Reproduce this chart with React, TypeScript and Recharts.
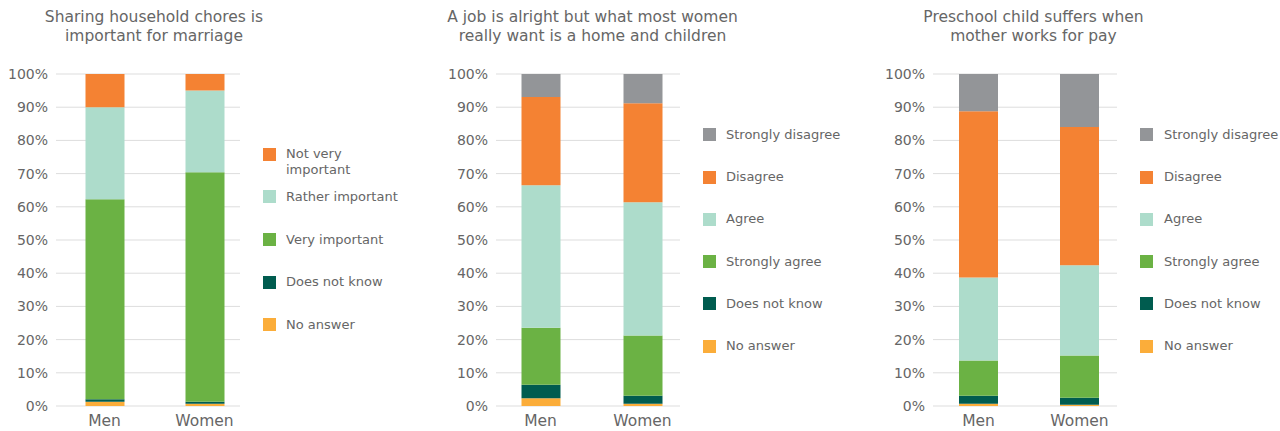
import React from 'react';
import { BarChart, Bar, XAxis, YAxis, CartesianGrid } from 'recharts';

// ---- data ----
const categories = ['Men', 'Women'];
const yTicks = [0, 10, 20, 30, 40, 50, 60, 70, 80, 90, 100];

// Chart 1: Sharing household chores is important for marriage
const choresTitle = ['Sharing household chores is', 'important for marriage'];
const choresNoAnswer = [1.3, 0.7];
const choresDoesNotKnow = [0.7, 0.6];
const choresVeryImportant = [60.3, 69.1];
const choresRatherImportant = [27.7, 24.6];
const choresNotVeryImportant = [10.0, 5.0];

// Chart 2: A job is alright but what most women really want is a home and children
const jobTitle = ['A job is alright but what most women', 'really want is a home and children'];
const jobNoAnswer = [2.3, 0.7];
const jobDoesNotKnow = [4.1, 2.4];
const jobStronglyAgree = [17.2, 18.1];
const jobAgree = [42.9, 40.2];
const jobDisagree = [26.6, 29.8];
const jobStronglyDisagree = [6.9, 8.8];

// Chart 3: Preschool child suffers when mother works for pay
const preschoolTitle = ['Preschool child suffers when', 'mother works for pay'];
const preschoolNoAnswer = [0.7, 0.4];
const preschoolDoesNotKnow = [2.4, 2.1];
const preschoolStronglyAgree = [10.6, 12.7];
const preschoolAgree = [25.0, 27.2];
const preschoolDisagree = [50.1, 41.6];
const preschoolStronglyDisagree = [11.2, 16.0];

// ---- styles ----
const C = {
  noAnswer: '#FBAD3A',
  dnk: '#005C4F',
  green: '#6BB244',
  teal: '#ADDCCB',
  orange: '#F48233',
  gray: '#939598',
};
const TEXT = '#666666';
const FONT = '"DejaVu Sans", sans-serif';

type Series = { key: string; label: string; color: string; values: number[] };

const choresSeries: Series[] = [
  { key: 'na', label: 'No answer', color: C.noAnswer, values: choresNoAnswer },
  { key: 'dnk', label: 'Does not know', color: C.dnk, values: choresDoesNotKnow },
  { key: 'vi', label: 'Very important', color: C.green, values: choresVeryImportant },
  { key: 'ri', label: 'Rather important', color: C.teal, values: choresRatherImportant },
  { key: 'nvi', label: 'Not very important', color: C.orange, values: choresNotVeryImportant },
];
const jobSeries: Series[] = [
  { key: 'na', label: 'No answer', color: C.noAnswer, values: jobNoAnswer },
  { key: 'dnk', label: 'Does not know', color: C.dnk, values: jobDoesNotKnow },
  { key: 'sa', label: 'Strongly agree', color: C.green, values: jobStronglyAgree },
  { key: 'a', label: 'Agree', color: C.teal, values: jobAgree },
  { key: 'd', label: 'Disagree', color: C.orange, values: jobDisagree },
  { key: 'sd', label: 'Strongly disagree', color: C.gray, values: jobStronglyDisagree },
];
const preschoolSeries: Series[] = [
  { key: 'na', label: 'No answer', color: C.noAnswer, values: preschoolNoAnswer },
  { key: 'dnk', label: 'Does not know', color: C.dnk, values: preschoolDoesNotKnow },
  { key: 'sa', label: 'Strongly agree', color: C.green, values: preschoolStronglyAgree },
  { key: 'a', label: 'Agree', color: C.teal, values: preschoolAgree },
  { key: 'd', label: 'Disagree', color: C.orange, values: preschoolDisagree },
  { key: 'sd', label: 'Strongly disagree', color: C.gray, values: preschoolStronglyDisagree },
];

type PanelProps = {
  left: number;
  title: string[];
  titleCenter: number;
  series: Series[];
  padLeft: number;
  padRight: number;
  swatchX: number;
  textX: number;
  legendFirst: number;
  legendStep: number;
  legendTextWidth: number;
};

function Panel(p: PanelProps) {
  const data = categories.map((c, i) => {
    const row: Record<string, string | number> = { name: c };
    p.series.forEach((s) => (row[s.key] = s.values[i]));
    return row;
  });
  const chartW = 56 + 184 + 4;
  const legendItems = [...p.series].reverse();
  return (
    <>
      <div
        style={{
          position: 'absolute',
          left: p.titleCenter - 200,
          width: 400,
          top: 8,
          textAlign: 'center',
          fontFamily: FONT,
          fontSize: 15.5,
          lineHeight: '19px',
          color: TEXT,
        }}
      >
        {p.title.map((t, i) => (
          <div key={i}>{t}</div>
        ))}
      </div>
      <div style={{ position: 'absolute', left: p.left, top: 0 }}>
        <BarChart
          width={chartW}
          height={431}
          data={data}
          margin={{ top: 74, right: 4, bottom: 0, left: 0 }}
          barSize={39}
        >
          <CartesianGrid vertical={false} stroke="#DDDDDD" strokeWidth={1} />
          <XAxis
            dataKey="name"
            axisLine={false}
            tickLine={false}
            height={25}
            tickMargin={3}
            padding={{ left: p.padLeft, right: p.padRight }}
            tick={{ fill: TEXT, fontSize: 15.5, fontFamily: FONT }}
            interval={0}
          />
          <YAxis
            width={56}
            domain={[0, 100]}
            ticks={yTicks}
            allowDataOverflow
            axisLine={false}
            tickLine={false}
            tickFormatter={(v: number) => `${v}%`}
            tick={{ fill: TEXT, fontSize: 14, fontFamily: FONT }}
          />
          {p.series.map((s) => (
            <Bar key={s.key} dataKey={s.key} stackId="a" fill={s.color} isAnimationActive={false} />
          ))}
        </BarChart>
      </div>
      {legendItems.map((s, i) => {
        const cy = p.legendFirst + i * p.legendStep;
        return (
          <React.Fragment key={s.key}>
            <div
              style={{
                position: 'absolute',
                left: p.swatchX,
                top: cy - 6.5,
                width: 13,
                height: 13,
                background: s.color,
              }}
            />
            <div
              style={{
                position: 'absolute',
                left: p.textX,
                top: cy - 8,
                width: p.legendTextWidth,
                fontFamily: FONT,
                fontSize: 13,
                lineHeight: '16px',
                color: TEXT,
                whiteSpace: 'normal',
              }}
            >
              {s.label}
            </div>
          </React.Fragment>
        );
      })}
    </>
  );
}

export default function App() {
  return (
    <div
      style={{
        position: 'absolute',
        left: 0,
        top: 0,
        width: 1280,
        height: 431,
        background: '#FFFFFF',
        overflow: 'hidden',
      }}
    >
      <Panel
        left={0}
        title={choresTitle}
        titleCenter={154}
        series={choresSeries}
        padLeft={-1.5}
        padRight={-14.5}
        swatchX={263}
        textX={286}
        legendFirst={154.3}
        legendStep={42.6}
        legendTextWidth={118}
      />
      <Panel
        left={440}
        title={jobTitle}
        titleCenter={592.5}
        series={jobSeries}
        padLeft={-6.5}
        padRight={-13.5}
        swatchX={703}
        textX={726}
        legendFirst={134.7}
        legendStep={42.3}
        legendTextWidth={160}
      />
      <Panel
        left={877}
        title={preschoolTitle}
        titleCenter={1033.5}
        series={preschoolSeries}
        padLeft={-5}
        padRight={-13}
        swatchX={1140}
        textX={1164}
        legendFirst={134.7}
        legendStep={42.3}
        legendTextWidth={160}
      />
    </div>
  );
}
